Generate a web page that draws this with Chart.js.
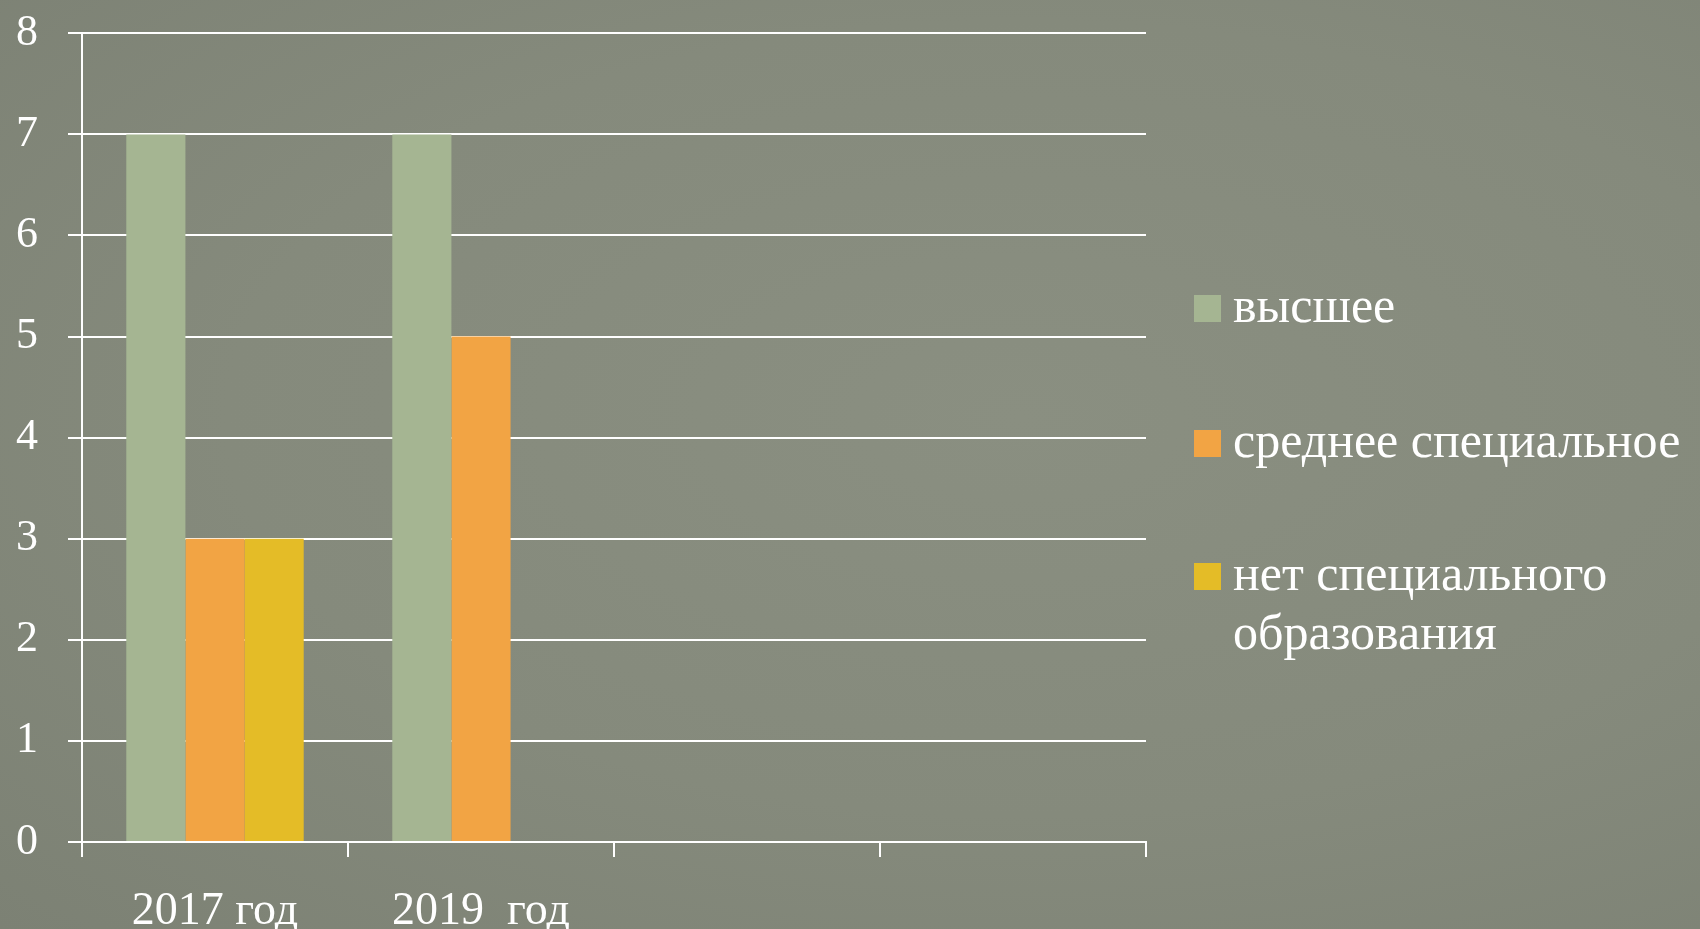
<!DOCTYPE html>
<html>
<head>
<meta charset="utf-8">
<script src="https://cdn.jsdelivr.net/npm/chart.js@4"></script>
<style>
  html, body { margin: 0; padding: 0; background: #868a7d; }
  #wrap { position: relative; width: 1700px; height: 929px;
    background: radial-gradient(ellipse at 60% 45%, #8a8f81 0%, #858a7c 55%, #7c8174 100%); }
</style>
</head>
<body>
<div id="wrap"><canvas id="c" width="1700" height="929"></canvas></div>
<script>
const categories = ['2017 год', '2019  год', '', ''];
const seriesNames = ['высшее', 'среднее специальное', ['нет специального', 'образования']];
const higher = [7, 7, null, null];
const secondarySpecial = [3, 5, null, null];
const noSpecial = [3, null, null, null];
const yTicks = [0, 1, 2, 3, 4, 5, 6, 7, 8];
const colors = ['#a5b592', '#f2a444', '#e4bc27'];

const FONT = '"Liberation Serif", "DejaVu Serif", serif';

const legendPlugin = {
  id: 'customLegend',
  afterDraw(chart) {
    const ctx = chart.ctx;
    ctx.save();
    const baselines = [322, 457, 590];
    const boxX = 1194, boxSize = 27, textX = 1233, lineGap = 59;
    ctx.font = '50px ' + FONT;
    ctx.fillStyle = '#ffffff';
    ctx.textBaseline = 'alphabetic';
    ctx.textAlign = 'left';
    chart.data.datasets.forEach((ds, i) => {
      const b = baselines[i];
      ctx.fillStyle = ds.backgroundColor;
      ctx.fillRect(boxX, b - boxSize, boxSize, boxSize);
      ctx.fillStyle = '#ffffff';
      const lines = Array.isArray(ds.label) ? ds.label : [ds.label];
      lines.forEach((t, k) => ctx.fillText(t, textX, b + k * lineGap));
    });
    ctx.restore();
  }
};

new Chart(document.getElementById('c'), {
  type: 'bar',
  data: {
    labels: categories,
    datasets: [
      { label: seriesNames[0], data: higher, backgroundColor: colors[0] },
      { label: seriesNames[1], data: secondarySpecial, backgroundColor: colors[1] },
      { label: seriesNames[2], data: noSpecial, backgroundColor: colors[2] }
    ]
  },
  options: {
    responsive: false,
    animation: false,
    layout: { padding: { top: 10, right: 554, bottom: 0, left: 0 } },
    datasets: { bar: { categoryPercentage: 0.667, barPercentage: 1.0 } },
    plugins: { legend: { display: false }, tooltip: { enabled: false } },
    scales: {
      x: {
        offset: true,
        grid: { offset: true, drawOnChartArea: false, drawTicks: true, tickLength: 15, color: '#ffffff', lineWidth: 2 },
        border: { display: true, color: '#ffffff', width: 2 },
        ticks: { color: '#ffffff', font: { family: FONT, size: 46 }, padding: 27, maxRotation: 0, autoSkip: false },
        afterFit(scale) { scale.height = 87; }
      },
      y: {
        min: 0, max: 8,
        afterBuildTicks(scale) { scale.ticks = yTicks.map(v => ({ value: v })); },
        grid: { color: '#ffffff', lineWidth: 2, drawTicks: true, tickLength: 14 },
        border: { display: true, color: '#ffffff', width: 2 },
        ticks: { color: '#ffffff', font: { family: FONT, size: 44, lineHeight: 0.15 }, padding: 30 },
        afterFit(scale) { scale.width = 82; }
      }
    }
  },
  plugins: [legendPlugin]
});
</script>
</body>
</html>
